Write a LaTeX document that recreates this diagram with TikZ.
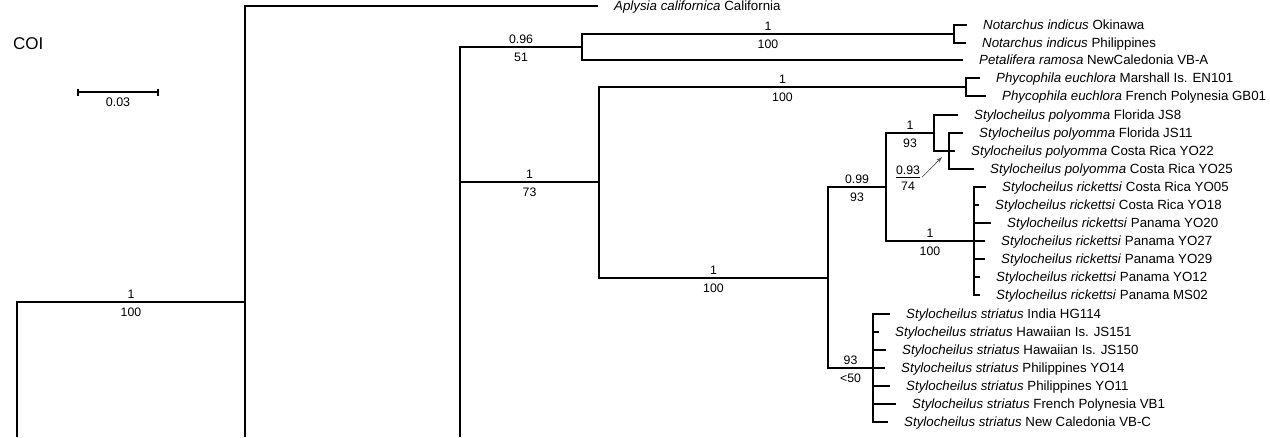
\documentclass[tikz,border=0pt]{standalone}
\usepackage{fontspec}
\setmainfont{Liberation Sans}
\usetikzlibrary{positioning,arrows.meta}

\begin{document}
\begin{tikzpicture}[x=1pt, y=-1pt, node distance=16pt,
		branch/.style={line width=1.1pt},
		leaf/.style={inner sep=0pt, text height=9.4pt, text depth=0pt, font=\fontsize{13.3}{15}\selectfont},
		post/.style={pos=0.75, above=2.5pt, inner sep=0pt, font=\fontsize{12.3}{14}\selectfont},
		boot/.style={pos=0.75, below=5.5pt, inner sep=0pt, font=\fontsize{12.3}{14}\selectfont},
		pointer/.style={line width=0.8pt, draw=black!65, -{Stealth[length=6pt, width=4pt]}}]

			\useasboundingbox (0,0) rectangle (1270,437);
			\node[anchor=west, inner sep=0pt, font=\fontsize{17}{20}\selectfont] (gene) at (13,44) {COI};

			% scale bar
			\coordinate (sb0) at (78,92);
			\coordinate (sb1) at (158,92);
			\draw[branch] (sb0) -- (sb1) node[midway, below=5pt, inner sep=0pt, font=\fontsize{12.5}{14}\selectfont] (sbl) {0.03};
			\draw[branch] ([yshift=3.5pt]sb0) -- ([yshift=-3.5pt]sb0);
			\draw[branch] ([yshift=3.5pt]sb1) -- ([yshift=-3.5pt]sb1);

			% internal nodes
			\coordinate (root) at (17,437);
			\coordinate (b) at (245,302);
			\coordinate (bcut) at (245,437);
			\coordinate (c) at (460,437);
			\coordinate (d) at (582,47);
			\coordinate (e) at (599,182);
			\coordinate (f) at (954,34);
			\coordinate (g) at (966,87);
			\coordinate (h) at (828,278);
			\coordinate (i) at (886,187);
			\coordinate (k) at (934,133);
			\coordinate (m) at (949,151);
			\coordinate (l) at (974,241);
			\coordinate (j) at (873,368);

			% tips
			\coordinate (aplt) at (598,6);
			\coordinate (not1t) at (967,25);
			\coordinate (not2t) at (966,43);
			\coordinate (pett) at (963,60);
			\coordinate (phy1t) at (980,78);
			\coordinate (phy2t) at (986,96);
			\coordinate (pol1t) at (958,115);
			\coordinate (pol2t) at (963,133);
			\coordinate (pol3t) at (955,151);
			\coordinate (pol4t) at (974,169);
			\coordinate (ric1t) at (986,187);
			\coordinate (ric2t) at (979,205);
			\coordinate (ric3t) at (991,223);
			\coordinate (ric4t) at (985,241);
			\coordinate (ric5t) at (985,259);
			\coordinate (ric6t) at (980,277);
			\coordinate (ric7t) at (980,295);
			\coordinate (str1t) at (890,314);
			\coordinate (str2t) at (879,332);
			\coordinate (str3t) at (886,350);
			\coordinate (str4t) at (885,368);
			\coordinate (str5t) at (890,386);
			\coordinate (str6t) at (896,404);
			\coordinate (str7t) at (888,422);

			% taxa
			\node[leaf, right=of aplt] (apl) {\textit{Aplysia californica} California};
			\node[leaf, right=of not1t] (not1) {\textit{Notarchus indicus} Okinawa};
			\node[leaf, right=of not2t] (not2) {\textit{Notarchus indicus} Philippines};
			\node[leaf, right=of pett] (pet) {\textit{Petalifera ramosa} NewCaledonia VB-A};
			\node[leaf, right=of phy1t] (phy1) {\textit{Phycophila euchlora} Marshall Is. EN101};
			\node[leaf, right=of phy2t] (phy2) {\textit{Phycophila euchlora} French Polynesia GB01};
			\node[leaf, right=of pol1t] (pol1) {\textit{Stylocheilus polyomma} Florida JS8};
			\node[leaf, right=of pol2t] (pol2) {\textit{Stylocheilus polyomma} Florida JS11};
			\node[leaf, right=of pol3t] (pol3) {\textit{Stylocheilus polyomma} Costa Rica YO22};
			\node[leaf, right=of pol4t] (pol4) {\textit{Stylocheilus polyomma} Costa Rica YO25};
			\node[leaf, right=of ric1t] (ric1) {\textit{Stylocheilus rickettsi} Costa Rica YO05};
			\node[leaf, right=of ric2t] (ric2) {\textit{Stylocheilus rickettsi} Costa Rica YO18};
			\node[leaf, right=of ric3t] (ric3) {\textit{Stylocheilus rickettsi} Panama YO20};
			\node[leaf, right=of ric4t] (ric4) {\textit{Stylocheilus rickettsi} Panama YO27};
			\node[leaf, right=of ric5t] (ric5) {\textit{Stylocheilus rickettsi} Panama YO29};
			\node[leaf, right=of ric6t] (ric6) {\textit{Stylocheilus rickettsi} Panama YO12};
			\node[leaf, right=of ric7t] (ric7) {\textit{Stylocheilus rickettsi} Panama MS02};
			\node[leaf, right=of str1t] (str1) {\textit{Stylocheilus striatus} India HG114};
			\node[leaf, right=of str2t] (str2) {\textit{Stylocheilus striatus} Hawaiian Is. JS151};
			\node[leaf, right=of str3t] (str3) {\textit{Stylocheilus striatus} Hawaiian Is. JS150};
			\node[leaf, right=of str4t] (str4) {\textit{Stylocheilus striatus} Philippines YO14};
			\node[leaf, right=of str5t] (str5) {\textit{Stylocheilus striatus} Philippines YO11};
			\node[leaf, right=of str6t] (str6) {\textit{Stylocheilus striatus} French Polynesia VB1};
			\node[leaf, right=of str7t] (str7) {\textit{Stylocheilus striatus} New Caledonia VB-C};

			% branches with support (posterior above, bootstrap below)
			\draw[branch] (root) |- (b) node[post] (pp1) {1} node[boot] (bs1) {100};
			\draw[branch] (bcut) |- (aplt);
			\draw[branch] (c) |- (d) node[post] (pp2) {0.96} node[boot] (bs2) {51};
			\draw[branch] (c) |- (e) node[post] (pp3) {1} node[boot] (bs3) {73};
			\draw[branch] (d) |- (f) node[post] (pp4) {1} node[boot] (bs4) {100};
			\draw[branch] (d) |- (pett);
			\draw[branch] (f) |- (not1t);
			\draw[branch] (f) |- (not2t);
			\draw[branch] (e) |- (g) node[post] (pp5) {1} node[boot] (bs5) {100};
			\draw[branch] (g) |- (phy1t);
			\draw[branch] (g) |- (phy2t);
			\draw[branch] (e) |- (h) node[post] (pp6) {1} node[boot] (bs6) {100};
			\draw[branch] (h) |- (i) node[post] (pp7) {0.99} node[boot] (bs7) {93};
			\draw[branch] (h) |- (j) node[post] (pp8) {93} node[boot] (bs8) {<50};
			\draw[branch] (i) |- (k) node[post] (pp9) {1} node[boot] (bs9) {93};
			\draw[branch] (i) |- (l) node[post] (pp10) {1} node[boot] (bs10) {100};
			\draw[branch] (k) |- (pol1t);
			\draw[branch] (k) |- (m);
			\draw[branch] (m) |- (pol2t);
			\draw[branch] (m) |- (pol3t);
			\draw[branch] (m) |- (pol4t);
			\draw[branch] (l) |- (ric1t);
			\draw[branch] (l) |- (ric2t);
			\draw[branch] (l) |- (ric3t);
			\draw[branch] (l) |- (ric4t);
			\draw[branch] (l) |- (ric5t);
			\draw[branch] (l) |- (ric6t);
			\draw[branch] (l) |- (ric7t);
			\draw[branch] (j) |- (str1t);
			\draw[branch] (j) |- (str2t);
			\draw[branch] (j) |- (str3t);
			\draw[branch] (j) |- (str4t);
			\draw[branch] (j) |- (str5t);
			\draw[branch] (j) |- (str6t);
			\draw[branch] (j) |- (str7t);

			% support for the short branch, pointed at with an arrow
			\node[anchor=south, inner sep=0pt, font=\fontsize{12.3}{14}\selectfont] (pp11) at (908,174.5) {0.93};
			\node[anchor=north, inner sep=0pt, font=\fontsize{12.3}{14}\selectfont] (bs11) at (908,181.5) {74};
			\coordinate (mtip) at (942,157);
			\draw[line width=0.8pt] ([yshift=-2.5pt]pp11.south west) -- ([yshift=-2.5pt]pp11.south east);
			\draw[pointer] ([xshift=2pt, yshift=-2.5pt]pp11.south east) -- (mtip);
		\end{tikzpicture}
\end{document}
